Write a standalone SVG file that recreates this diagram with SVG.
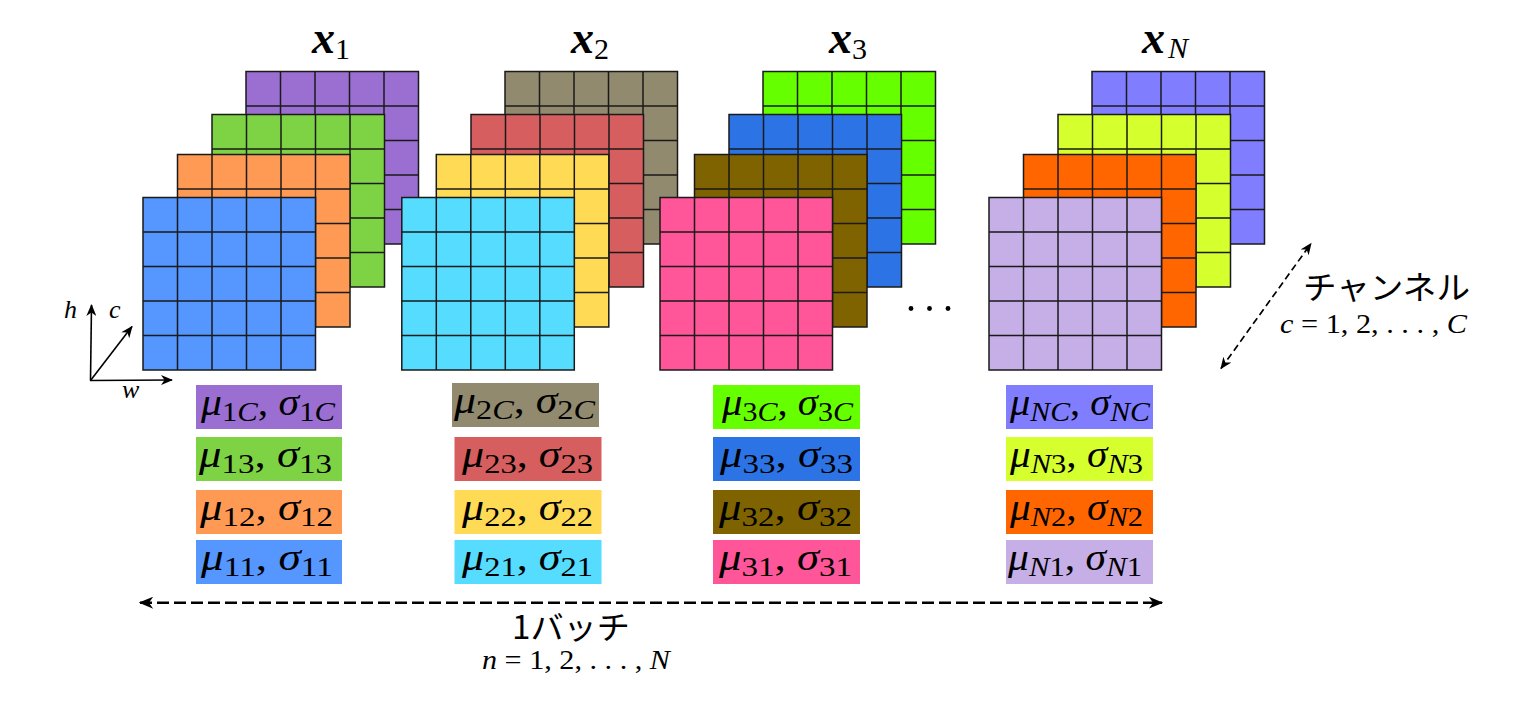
<svg xmlns="http://www.w3.org/2000/svg" xmlns:xlink="http://www.w3.org/1999/xlink" width="1536" height="706" viewBox="0 0 1536 706">
<style>
.grid{fill:none;stroke:#1a1a1a;stroke-width:1.5}
.m{font-family:"Liberation Serif","DejaVu Serif",serif;font-size:38px;fill:#000}
.it{font-style:italic}
.sub{font-size:28px}
.ttl{font-family:"Liberation Serif","DejaVu Serif",serif;font-size:46px;font-weight:bold;font-style:italic;fill:#000}
.ttls{font-family:"Liberation Serif","DejaVu Serif",serif;font-size:30px;font-weight:normal}
.jp{font-family:"Noto Sans CJK JP","Noto Sans",sans-serif;font-size:32px;fill:#000}
.eq{font-family:"Liberation Serif","DejaVu Serif",serif;font-size:27px;fill:#000}
.ax{font-family:"Liberation Serif","DejaVu Serif",serif;font-size:26px;font-style:italic;fill:#000}
.conn{fill:none;stroke:#000}
</style>
<defs>
<g id="cells">
<rect x="0" y="0" width="172.5" height="172.5" class="grid"/>
<path class="grid" d="M34.5 0V172.5M69 0V172.5M103.5 0V172.5M138 0V172.5M0 34.5H172.5M0 69H172.5M0 103.5H172.5M0 138H172.5"/>
</g>
<rect id="sq" x="0" y="0" width="172.5" height="172.5"/>
<marker id="ah" viewBox="0 0 12 10" refX="11" refY="5" markerWidth="13" markerHeight="10" markerUnits="userSpaceOnUse" orient="auto-start-reverse">
<path d="M0,0 L12,5 L0,10 L3.5,5 Z" fill="#000"/>
</marker>
<marker id="ahb" viewBox="0 0 12 10" refX="11" refY="5" markerWidth="15" markerHeight="12" markerUnits="userSpaceOnUse" orient="auto-start-reverse">
<path d="M0,0 L12,5 L0,10 L3.5,5 Z" fill="#000"/>
</marker>
</defs>
<rect width="1536" height="706" fill="#fff"/>

<!-- stack x1 -->
<g id="stack-x1">
<g transform="translate(246,71.5)"><use href="#sq" fill="#9A6FD1"/><use href="#cells"/></g>
<g transform="translate(212,114.5)"><use href="#sq" fill="#7ED344"/><use href="#cells"/></g>
<g transform="translate(177.5,154.5)"><use href="#sq" fill="#FF9A55"/><use href="#cells"/></g>
<g transform="translate(143,197.5)"><use href="#sq" fill="#5596FF"/><use href="#cells"/></g>
<text class="ttl" x="312" y="53">x<tspan class="ttls" style="font-style:normal" dy="6">1</tspan></text>
</g>

<!-- stack x2 -->
<g id="stack-x2">
<g transform="translate(505,71.5)"><use href="#sq" fill="#918A6F"/><use href="#cells"/></g>
<g transform="translate(471,114.5)"><use href="#sq" fill="#D65E5E"/><use href="#cells"/></g>
<g transform="translate(436.3,154.5)"><use href="#sq" fill="#FFDA55"/><use href="#cells"/></g>
<g transform="translate(401.8,197.5)"><use href="#sq" fill="#55DCFF"/><use href="#cells"/></g>
<text class="ttl" x="571" y="53">x<tspan class="ttls" style="font-style:normal" dy="6">2</tspan></text>
</g>

<!-- stack x3 -->
<g id="stack-x3">
<g transform="translate(763,71.5)"><use href="#sq" fill="#66FF00"/><use href="#cells"/></g>
<g transform="translate(729,114.5)"><use href="#sq" fill="#2C74E6"/><use href="#cells"/></g>
<g transform="translate(694.5,154.5)"><use href="#sq" fill="#7F6300"/><use href="#cells"/></g>
<g transform="translate(660,197.5)"><use href="#sq" fill="#FF5599"/><use href="#cells"/></g>
<text class="ttl" x="829" y="53">x<tspan class="ttls" style="font-style:normal" dy="6">3</tspan></text>
</g>

<!-- dots -->
<g id="ellipsis">
<circle cx="911" cy="308.5" r="2.4" fill="#000"/>
<circle cx="929.5" cy="308.5" r="2.4" fill="#000"/>
<circle cx="948" cy="308.5" r="2.4" fill="#000"/>
</g>

<!-- stack xN -->
<g id="stack-xN">
<g transform="translate(1092,71.5)"><use href="#sq" fill="#807EFF"/><use href="#cells"/></g>
<g transform="translate(1058,114.5)"><use href="#sq" fill="#D6FF2E"/><use href="#cells"/></g>
<g transform="translate(1023.5,154.5)"><use href="#sq" fill="#FF6600"/><use href="#cells"/></g>
<g transform="translate(989,197.5)"><use href="#sq" fill="#C6AEE6"/><use href="#cells"/></g>
<text class="ttl" x="1142" y="53">x<tspan class="ttls" style="font-style:italic" dx="3" dy="5">N</tspan></text>
</g>

<!-- stats labels column 1 -->
<g id="lab-1C"><rect x="196" y="385" width="146" height="44" fill="#9A6FD1"/>
<text class="m" x="201" y="415" textLength="134" lengthAdjust="spacingAndGlyphs"><tspan class="it">μ</tspan><tspan class="sub" dy="6">1<tspan class="it">C</tspan></tspan><tspan dy="-6">, </tspan><tspan class="it">σ</tspan><tspan class="sub" dy="6">1<tspan class="it">C</tspan></tspan></text></g>
<g id="lab-13"><rect x="196" y="437" width="146" height="44" fill="#7ED344"/>
<text class="m" x="199" y="467" textLength="133" lengthAdjust="spacingAndGlyphs"><tspan class="it">μ</tspan><tspan class="sub" dy="6">13</tspan><tspan dy="-6">, </tspan><tspan class="it">σ</tspan><tspan class="sub" dy="6">13</tspan></text></g>
<g id="lab-12"><rect x="196" y="490" width="146" height="44" fill="#FF9A55"/>
<text class="m" x="200" y="520" textLength="133" lengthAdjust="spacingAndGlyphs"><tspan class="it">μ</tspan><tspan class="sub" dy="6">12</tspan><tspan dy="-6">, </tspan><tspan class="it">σ</tspan><tspan class="sub" dy="6">12</tspan></text></g>
<g id="lab-11"><rect x="196" y="540" width="146" height="44" fill="#5596FF"/>
<text class="m" x="201" y="570" textLength="132" lengthAdjust="spacingAndGlyphs"><tspan class="it">μ</tspan><tspan class="sub" dy="6">11</tspan><tspan dy="-6">, </tspan><tspan class="it">σ</tspan><tspan class="sub" dy="6">11</tspan></text></g>

<!-- column 2 -->
<g id="lab-2C"><rect x="452" y="383" width="147" height="44" fill="#918A6F"/>
<text class="m" x="454" y="413" textLength="141" lengthAdjust="spacingAndGlyphs"><tspan class="it">μ</tspan><tspan class="sub" dy="6">2<tspan class="it">C</tspan></tspan><tspan dy="-6">, </tspan><tspan class="it">σ</tspan><tspan class="sub" dy="6">2<tspan class="it">C</tspan></tspan></text></g>
<g id="lab-23"><rect x="454.5" y="437" width="147" height="44" fill="#D65E5E"/>
<text class="m" x="462" y="467" textLength="131" lengthAdjust="spacingAndGlyphs"><tspan class="it">μ</tspan><tspan class="sub" dy="6">23</tspan><tspan dy="-6">, </tspan><tspan class="it">σ</tspan><tspan class="sub" dy="6">23</tspan></text></g>
<g id="lab-22"><rect x="454.5" y="490" width="147" height="44" fill="#FFDA55"/>
<text class="m" x="462" y="520" textLength="131" lengthAdjust="spacingAndGlyphs"><tspan class="it">μ</tspan><tspan class="sub" dy="6">22</tspan><tspan dy="-6">, </tspan><tspan class="it">σ</tspan><tspan class="sub" dy="6">22</tspan></text></g>
<g id="lab-21"><rect x="454.5" y="540" width="147" height="44" fill="#55DCFF"/>
<text class="m" x="462" y="570" textLength="131" lengthAdjust="spacingAndGlyphs"><tspan class="it">μ</tspan><tspan class="sub" dy="6">21</tspan><tspan dy="-6">, </tspan><tspan class="it">σ</tspan><tspan class="sub" dy="6">21</tspan></text></g>

<!-- column 3 -->
<g id="lab-3C"><rect x="713" y="385" width="147" height="44" fill="#66FF00"/>
<text class="m" x="722" y="415" textLength="131" lengthAdjust="spacingAndGlyphs"><tspan class="it">μ</tspan><tspan class="sub" dy="6">3<tspan class="it">C</tspan></tspan><tspan dy="-6">, </tspan><tspan class="it">σ</tspan><tspan class="sub" dy="6">3<tspan class="it">C</tspan></tspan></text></g>
<g id="lab-33"><rect x="713" y="437" width="147" height="44" fill="#2C74E6"/>
<text class="m" x="720" y="467" textLength="133" lengthAdjust="spacingAndGlyphs"><tspan class="it">μ</tspan><tspan class="sub" dy="6">33</tspan><tspan dy="-6">, </tspan><tspan class="it">σ</tspan><tspan class="sub" dy="6">33</tspan></text></g>
<g id="lab-32"><rect x="713" y="490" width="147" height="44" fill="#7F6300"/>
<text class="m" x="719" y="520" textLength="133" lengthAdjust="spacingAndGlyphs"><tspan class="it">μ</tspan><tspan class="sub" dy="6">32</tspan><tspan dy="-6">, </tspan><tspan class="it">σ</tspan><tspan class="sub" dy="6">32</tspan></text></g>
<g id="lab-31"><rect x="713" y="540" width="147" height="44" fill="#FF5599"/>
<text class="m" x="719" y="570" textLength="133" lengthAdjust="spacingAndGlyphs"><tspan class="it">μ</tspan><tspan class="sub" dy="6">31</tspan><tspan dy="-6">, </tspan><tspan class="it">σ</tspan><tspan class="sub" dy="6">31</tspan></text></g>

<!-- column N -->
<g id="lab-NC"><rect x="1006" y="385" width="147" height="44" fill="#807EFF"/>
<text class="m" x="1010" y="415" textLength="140" lengthAdjust="spacingAndGlyphs"><tspan class="it">μ</tspan><tspan class="sub it" dy="6">NC</tspan><tspan dy="-6">, </tspan><tspan class="it">σ</tspan><tspan class="sub it" dy="6">NC</tspan></text></g>
<g id="lab-N3"><rect x="1006" y="437" width="147" height="44" fill="#D6FF2E"/>
<text class="m" x="1010" y="467" textLength="133" lengthAdjust="spacingAndGlyphs"><tspan class="it">μ</tspan><tspan class="sub" dy="6"><tspan class="it">N</tspan>3</tspan><tspan dy="-6">, </tspan><tspan class="it">σ</tspan><tspan class="sub" dy="6"><tspan class="it">N</tspan>3</tspan></text></g>
<g id="lab-N2"><rect x="1006" y="490" width="147" height="44" fill="#FF6600"/>
<text class="m" x="1010" y="520" textLength="133" lengthAdjust="spacingAndGlyphs"><tspan class="it">μ</tspan><tspan class="sub" dy="6"><tspan class="it">N</tspan>2</tspan><tspan dy="-6">, </tspan><tspan class="it">σ</tspan><tspan class="sub" dy="6"><tspan class="it">N</tspan>2</tspan></text></g>
<g id="lab-N1"><rect x="1006" y="540" width="147" height="44" fill="#C6AEE6"/>
<text class="m" x="1008" y="570" textLength="134" lengthAdjust="spacingAndGlyphs"><tspan class="it">μ</tspan><tspan class="sub" dy="6"><tspan class="it">N</tspan>1</tspan><tspan dy="-6">, </tspan><tspan class="it">σ</tspan><tspan class="sub" dy="6"><tspan class="it">N</tspan>1</tspan></text></g>

<!-- axes labels -->
<g id="axes-labels">
<text class="ax" x="64" y="318">h</text>
<text class="ax" x="109" y="318">c</text>
<text class="ax" x="122" y="398">w</text>
</g>

<!-- channel label -->
<g id="channel-label">
<text class="jp" x="1303" y="299" textLength="167" lengthAdjust="spacingAndGlyphs">チャンネル</text>
<text class="eq" x="1280" y="333" textLength="187" lengthAdjust="spacingAndGlyphs"><tspan font-style="italic">c</tspan> = 1, 2, . . . , <tspan font-style="italic">C</tspan></text>
</g>

<!-- batch label -->
<g id="batch-label">
<text class="jp" x="512" y="639" font-size="29" textLength="118" lengthAdjust="spacingAndGlyphs">1バッチ</text>
<text class="eq" x="482" y="669" font-size="25" textLength="188" lengthAdjust="spacingAndGlyphs"><tspan font-style="italic">n</tspan> = 1, 2, . . . , <tspan font-style="italic">N</tspan></text>
</g>

<!-- connectors -->
<g id="connectors">
<line class="conn" x1="90.5" y1="380.5" x2="91.5" y2="305" stroke-width="1.6" marker-end="url(#ah)"/>
<line class="conn" x1="90" y1="380.5" x2="172" y2="380" stroke-width="1.6" marker-end="url(#ah)"/>
<line class="conn" x1="90.5" y1="380.5" x2="132" y2="326.5" stroke-width="1.6" marker-end="url(#ah)"/>
<line class="conn" x1="1221" y1="368.5" x2="1311" y2="243.5" stroke-width="1.7" stroke-dasharray="7 4" marker-start="url(#ah)" marker-end="url(#ah)"/>
<line class="conn" x1="140" y1="602.7" x2="1162" y2="602.7" stroke-width="2.6" stroke-dasharray="12 5" marker-start="url(#ahb)" marker-end="url(#ahb)"/>
</g>
</svg>
